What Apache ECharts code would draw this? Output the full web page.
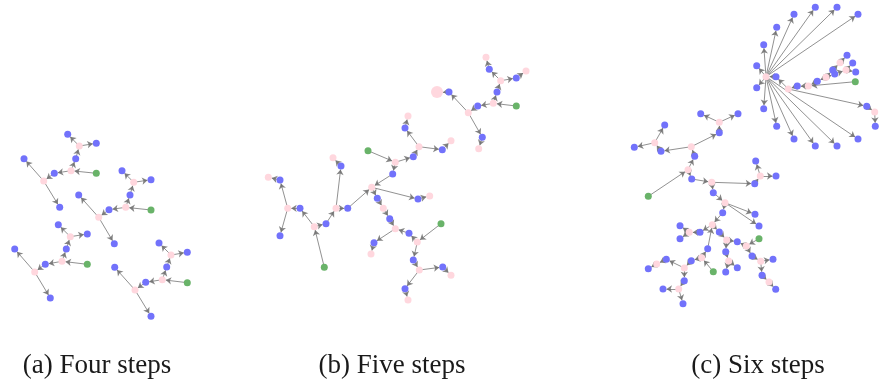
<!DOCTYPE html>
<html>
<head>
<meta charset="utf-8">
<script src="https://cdn.jsdelivr.net/npm/echarts@6/dist/echarts.min.js"></script>
<style>
html,body{margin:0;padding:0;background:#fff;}
#chart{width:883px;height:382px;}
</style>
</head>
<body>
<div id="chart"></div>
<script>
// ---- data: node positions [x, y, kind] (b=blue, p=pink, P=large pink, g=green)
const nodesA = [
  [67.7,134.3,'b'],[79.3,146,'p'],[96.3,143.3,'b'],[75.7,158.7,'b'],[71,170.7,'p'],[96.3,173.3,'g'],[54.3,173.3,'b'],[43.7,181,'p'],[24,158.7,'b'],[59.7,207.3,'b'],
  [122,170.7,'b'],[133.7,182.3,'p'],[151,179.7,'b'],[130,195,'b'],[125.7,207.3,'p'],[151,210,'g'],[109,209.7,'b'],[98.7,217.3,'p'],[78.7,195,'b'],[114.3,243.7,'b'],
  [58.3,224.7,'b'],[70.3,236.7,'p'],[87.3,234,'b'],[66.3,249,'b'],[62,261.3,'p'],[87.3,264.3,'g'],[45.3,264.3,'b'],[34.7,272,'p'],[14.7,249,'b'],[50.3,298,'b'],
  [159,243,'b'],[171,255,'p'],[187.3,252.3,'b'],[166.7,267,'b'],[162.3,279.7,'p'],[187.3,282.7,'g'],[145.7,282.3,'b'],[135,290,'p'],[114.7,267.3,'b'],[151,316.3,'b']
];
const edgesA = [
  [1,0],[1,2],[3,1],[4,3],[5,4],[4,6],[6,7],[7,8],[7,9],
  [11,10],[11,12],[13,11],[14,13],[15,14],[14,16],[16,17],[17,18],[17,19],
  [21,20],[21,22],[23,21],[24,23],[25,24],[24,26],[26,27],[27,28],[27,29],
  [31,30],[31,32],[33,31],[34,33],[35,34],[34,36],[36,37],[37,38],[37,39]
];

const nodesB = [
  [486,57.3,'p'],[489.3,69.3,'b'],[500.7,80.7,'p'],[516.3,78,'b'],[526,71,'p'],[497,92,'b'],[493.3,103.3,'p'],[516.3,106,'g'],
  [477.7,106,'b'],[468.3,112.7,'p'],[449,92,'b'],[437,92,'P'],[482.3,137.3,'b'],[478.7,148.7,'p'],
  [408,116,'p'],[405,128,'b'],[419,146.7,'p'],[442.3,149.7,'b'],[451,140.7,'p'],[413.3,156.7,'b'],[395.3,162.3,'p'],[368,150.7,'g'],
  [392.7,174,'b'],[371.7,187.3,'p'],[418,199,'b'],[429.7,196,'p'],[347.7,208.3,'b'],[336,208.3,'p'],[341,166,'b'],[333,157.7,'p'],
  [326,223.7,'b'],[314.3,226.7,'p'],[324.3,267.3,'g'],[300,208.3,'b'],[287.7,208.3,'p'],[280,180,'b'],[268.3,177.3,'p'],[280,235.7,'b'],
  [377.3,198.3,'b'],[383.3,208.3,'p'],[389.7,218.7,'b'],[395.3,228.7,'p'],[374,242.7,'b'],[371,254,'p'],[409,233.3,'b'],[417.3,242,'p'],
  [441,223.7,'g'],[413.3,260,'b'],[419.3,270,'p'],[442.7,267,'b'],[451,275.3,'p'],[405,288.7,'b'],[408,300,'p']
];
const edgesB = [
  [1,0],[2,1],[2,3],[3,4],[5,2],[6,5],[7,6],[6,8],[8,9],[9,10],[10,11],[9,12],[12,13],
  [15,14],[16,15],[16,17],[17,18],[19,16],[20,19],[21,20],[20,22],[22,23],[23,24],[24,25],[26,23],[27,26],[27,28],[28,29],
  [30,27],[31,30],[32,31],[31,33],[33,34],[34,35],[35,36],[34,37],
  [23,38],[38,39],[39,40],[40,41],[41,42],[42,43],[44,41],[45,44],[46,45],[45,47],[47,48],[48,49],[49,50],[48,51],[51,52]
];

const nodesC = [
  [766,76.7,'p'],
  [815.3,7.3,'b'],[837,7.3,'b'],[794,14.3,'b'],[858,14.3,'b'],[776.7,27.3,'b'],[763.7,44.7,'b'],[756.7,65.7,'b'],
  [756.7,87.7,'b'],[763.7,108.7,'b'],[776.7,126.3,'b'],[794,139,'b'],[815.3,146,'b'],[837,146,'b'],[858,139,'b'],
  [776,76.7,'b'],[788.3,89,'p'],[797.3,86,'b'],[808.3,86,'p'],[817.3,81.3,'b'],[826,77.3,'p'],[855.3,81.7,'g'],
  [834.7,74,'b'],[832.7,70,'b'],[840,62.7,'p'],[847,55.3,'b'],[846,70,'p'],[852.7,63,'b'],[855.7,72,'b'],
  [866.7,106.3,'b'],[874.7,112,'p'],[875.3,126.3,'b'],
  [700.7,113.7,'b'],[719.3,122.3,'p'],[738,113.7,'b'],[719.3,132.7,'b'],[691.3,146.7,'p'],[661,151.3,'b'],[654.7,142.7,'p'],
  [664.7,125,'b'],[634.3,147.3,'b'],[694.7,156.3,'b'],[688,169.7,'p'],[648.3,196.3,'g'],[691.7,179,'b'],[711.7,182.3,'p'],
  [754.7,183.7,'b'],[760.3,176,'p'],[755.7,161,'b'],[776,176,'b'],[713.3,192.7,'b'],
  [725,202.7,'p'],[755,214.3,'b'],[759,226,'b'],[722.7,212.7,'b'],[712.3,224.7,'p'],[700,232.3,'b'],[689.3,232.3,'p'],
  [680,225.7,'b'],[680,238.7,'b'],[719.3,232,'b'],[726.7,240,'p'],[737.3,241.7,'b'],[746.3,246,'p'],[759,238.7,'g'],
  [752,256,'b'],[760.7,261.3,'p'],[773,259.3,'b'],[762,275.3,'b'],[769,282,'p'],[775.7,289.3,'b'],
  [725.7,251.7,'b'],[728.7,261,'p'],[725.7,272,'b'],[737.3,267.7,'b'],
  [707.7,248.7,'b'],[701.7,257.7,'p'],[713.3,271.7,'g'],[691.3,260.7,'b'],[684.3,268,'p'],[666.3,259.3,'b'],[656.7,264,'p'],
  [648.3,268.7,'b'],[684.3,280.7,'b'],[678.7,289,'p'],[663,289,'b'],[683,303.7,'b']
];
const edgesC = [
  [0,1],[0,2],[0,3],[0,4],[0,5],[0,6],[0,7],[0,8],[0,9],[0,10],[0,11],[0,12],[0,13],[0,14],
  [15,0],[16,15],[17,16],[18,17],[19,18],[20,19],[21,18],[20,22],[22,26],[26,27],[26,28],[20,23],[23,24],[24,25],
  [16,29],[29,30],[30,31],
  [33,32],[33,34],[35,33],[36,35],[36,37],[37,38],[38,39],[38,40],[41,36],[42,41],[43,42],[42,44],[44,45],[45,46],
  [46,47],[47,48],[47,49],[45,50],
  [50,51],[51,52],[51,53],[51,54],[54,55],[55,56],[56,57],[57,58],[57,59],[55,60],[60,61],[61,62],[63,62],[64,63],
  [63,65],[65,66],[66,67],[66,68],[68,69],[69,70],[61,71],[71,72],[72,73],[72,74],
  [75,55],[76,75],[77,76],[76,78],[78,79],[79,80],[80,81],[81,82],[79,83],[83,84],[84,85],[84,86]
];

const captions = ['(a) Four steps', '(b) Five steps', '(c) Six steps'];
const captionX = [97, 392, 758];

// ---- styling
const kindStyle = {
  b: { color: '#7272fb', size: 7 },
  p: { color: '#ffd7de', size: 7 },
  P: { color: '#ffd7de', size: 12 },
  g: { color: '#69b369', size: 7 }
};

function buildSeries(nodes, edges) {
  return {
    type: 'graph',
    coordinateSystem: 'cartesian2d',
    layout: 'none',
    roam: false,
    silent: true,
    animation: false,
    edgeSymbol: ['none', 'arrow'],
    edgeSymbolSize: [0, 5.5],
    data: nodes.map((n, i) => ({
      name: String(i),
      value: [n[0], n[1]],
      symbolSize: kindStyle[n[2]].size,
      itemStyle: { color: kindStyle[n[2]].color }
    })),
    links: edges.map(e => ({ source: e[0], target: e[1] })),
    lineStyle: { color: '#6e6e6e', width: 0.9, opacity: 0.85, curveness: 0 },
    label: { show: false },
    z: 2
  };
}

const chart = echarts.init(document.getElementById('chart'), null, { renderer: 'canvas' });
chart.setOption({
  animation: false,
  backgroundColor: '#ffffff',
  grid: { left: 0, right: 0, top: 0, bottom: 0, containLabel: false },
  xAxis: { type: 'value', min: 0, max: 883, show: false },
  yAxis: { type: 'value', min: 0, max: 382, inverse: true, show: false },
  series: [buildSeries(nodesA, edgesA), buildSeries(nodesB, edgesB), buildSeries(nodesC, edgesC)],
  graphic: captions.map((t, i) => ({
    type: 'text',
    x: captionX[i],
    y: 366,
    style: {
      text: t,
      fill: '#1a1a1a',
      font: '27px "Liberation Serif", serif',
      textAlign: 'center',
      textVerticalAlign: 'middle'
    }
  }))
});
</script>
</body>
</html>
